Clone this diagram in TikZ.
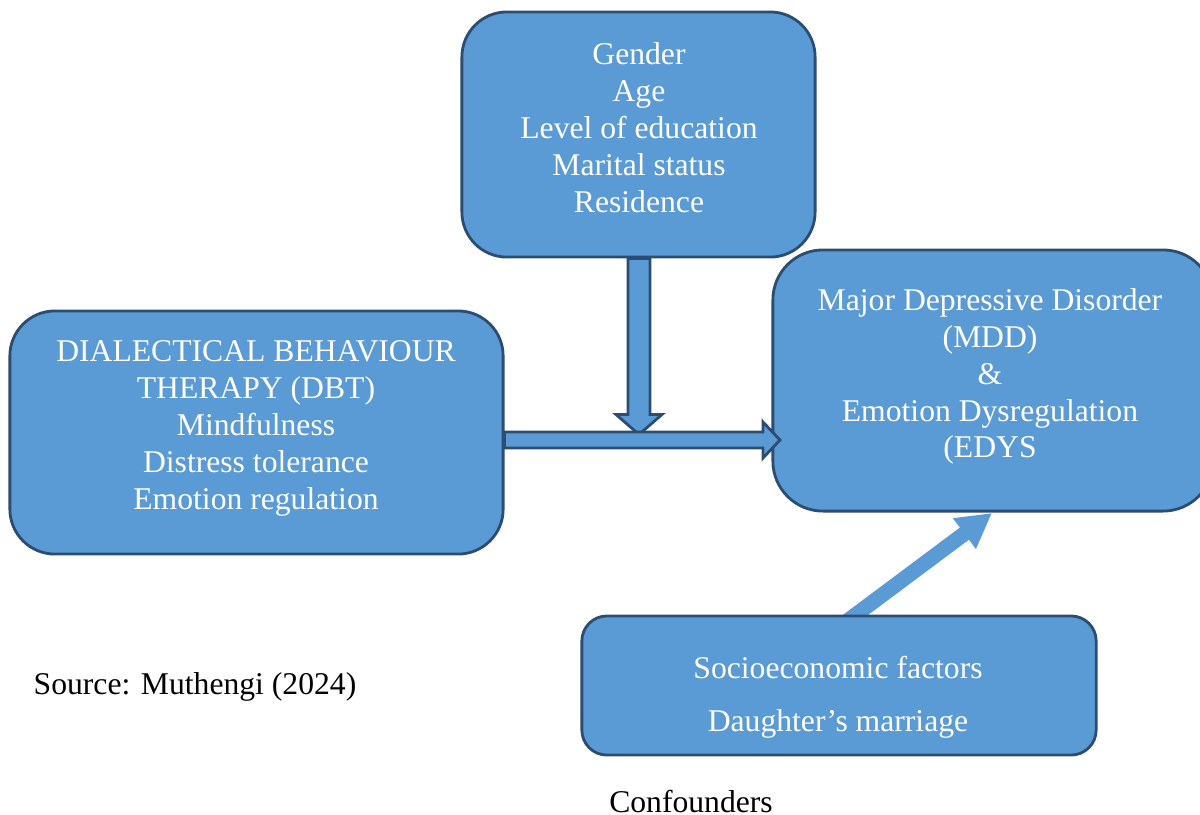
\documentclass[tikz,border=0pt]{standalone}
\usepackage{fontspec}
\setmainfont{Liberation Serif}
\usetikzlibrary{arrows.meta,calc}
\definecolor{boxfill}{HTML}{5B9BD5}
\definecolor{boxline}{HTML}{2C4D72}
\tikzset{
  blk/.style={draw=boxline, fill=boxfill, line width=0.8pt, inner sep=0pt},
  wtxt/.style={text=white, align=center, font=\fontsize{9}{10.5}\selectfont, inner sep=0pt},
  btxt/.style={text=black, font=\fontsize{9}{10.5}\selectfont, inner sep=0pt},
  diagarrow/.style={draw=boxfill, line width=4.3pt, -{Triangle[length=9.8pt, width=10.2pt]}},
}
\begin{document}
\begin{tikzpicture}[x=0.01cm, y=-0.01cm]
\useasboundingbox (0,0) rectangle (1200,814);
\clip (0,0) rectangle (1200,814);
% boxes
\node[blk, rounded corners=0.45cm, minimum width=3.53cm, minimum height=2.45cm] (top) at (638.5,134.5) {};
\node[blk, rounded corners=0.45cm, minimum width=4.93cm, minimum height=2.43cm] (dbt) at (256.5,432.5) {};
\node[blk, rounded corners=0.5cm, minimum width=4.40cm, minimum height=2.61cm] (mdd) at (993,380.5) {};
% diagonal arrow (drawn under bottom box)
\coordinate (d1) at (846,622);
\coordinate (d2) at (992,513);
\draw[diagarrow] (d1) -- (d2);
\node[blk, rounded corners=0.25cm, minimum width=5.14cm, minimum height=1.39cm] (bot) at (839,685.5) {};
% down arrow
\draw[blk, line join=miter] ($(top.south)+(-10.5,0)$) -- ++(0,156) -- ++(-12,0) -- ++(23,20) coordinate (dtip) -- ++(23,-20) -- ++(-12,0) -- ($(top.south)+(11.5,0)$) -- cycle;
% right arrow
\draw[blk, line join=miter] ($(dbt.east)+(0,-0.5)$) -- (763,432) -- (763,422) -- (780,440) coordinate (rtip) -- (763,458) -- (763,448) -- ($(dbt.east)+(0,15.5)$) -- cycle;
% texts
\node[wtxt] (toptxt) at (639,127.5) {Gender\\Age\\Level of education\\Marital status\\Residence};
\node[wtxt] (dbttxt) at (256,428.5) {DIALECTICAL BEHAVIOUR\\THERAPY (DBT)\\Mindfulness\\Distress tolerance\\Emotion regulation};
\node[wtxt] (mddtxt) at (990,376.5) {Major Depressive Disorder\\(MDD)\\\&\\Emotion Dysregulation\\(EDYS};
\node[wtxt] (bottxt) at (838,697.5) {Socioeconomic factors\\[4.5pt]Daughter’s marriage};
\node[btxt, anchor=west] (src) at (33,687) {Source: Muthengi (2024)};
\node[btxt] (conf) at (691,801) {Confounders};
\end{tikzpicture}
\end{document}
